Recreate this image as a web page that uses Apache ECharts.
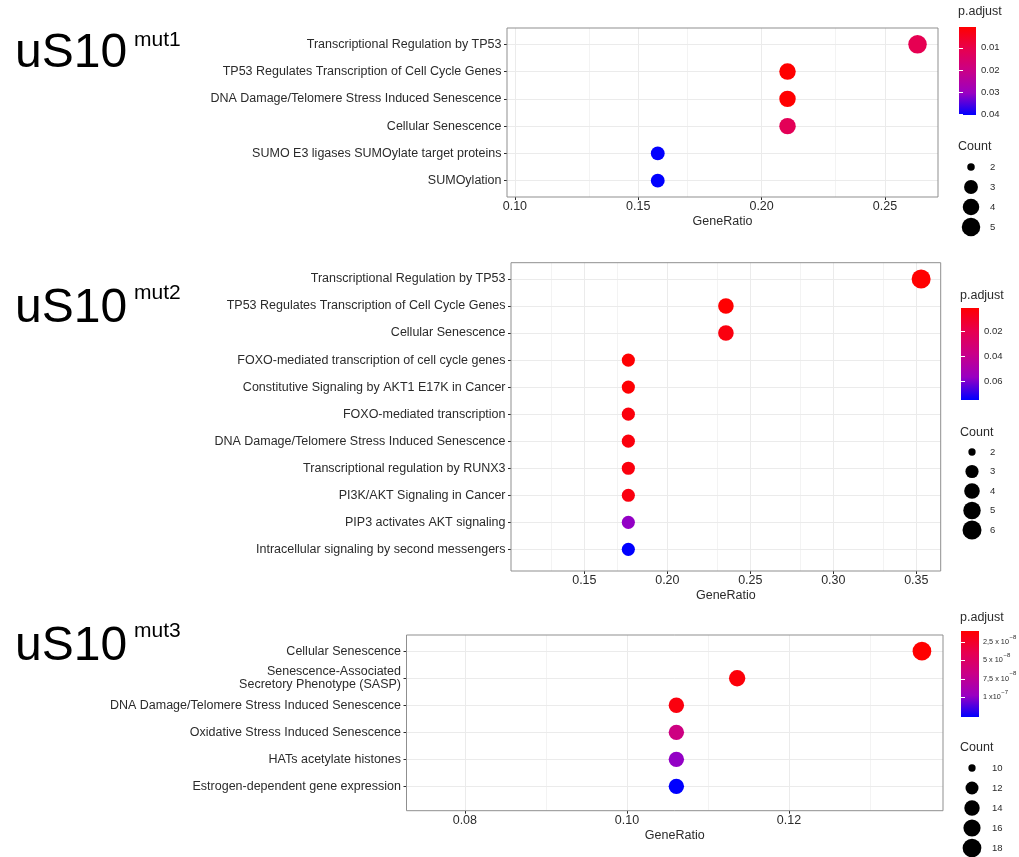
<!DOCTYPE html>
<html><head><meta charset="utf-8">
<script src="https://cdn.jsdelivr.net/npm/echarts@6/dist/echarts.min.js"></script>
<style>html,body{margin:0;padding:0;background:#fff}#c{width:1019px;height:857px}</style>
</head><body><div id="c"></div><script>
// ================= DATA =================
// Panel uS10 mut1
const cats1 = ['Transcriptional Regulation by TP53','TP53 Regulates Transcription of Cell Cycle Genes','DNA Damage/Telomere Stress Induced Senescence','Cellular Senescence','SUMO E3 ligases SUMOylate target proteins','SUMOylation'];
const ratio1 = [0.2632, 0.2105, 0.2105, 0.2105, 0.1579, 0.1579];
const count1 = [5, 4, 4, 4, 3, 3];
const padj1 = [0.0110, 0.00067, 0.0008, 0.0120, 0.0400, 0.0402];
const xTicks1 = [0.10, 0.15, 0.20, 0.25];
const pTicks1 = [0.01, 0.02, 0.03, 0.04];
const countBreaks1 = [2, 3, 4, 5];

// Panel uS10 mut2
const cats2 = ['Transcriptional Regulation by TP53','TP53 Regulates Transcription of Cell Cycle Genes','Cellular Senescence','FOXO-mediated transcription of cell cycle genes','Constitutive Signaling by AKT1 E17K in Cancer','FOXO-mediated transcription','DNA Damage/Telomere Stress Induced Senescence','Transcriptional regulation by RUNX3','PI3K/AKT Signaling in Cancer','PIP3 activates AKT signaling','Intracellular signaling by second messengers'];
const ratio2 = [0.3529, 0.2353, 0.2353, 0.1765, 0.1765, 0.1765, 0.1765, 0.1765, 0.1765, 0.1765, 0.1765];
const count2 = [6, 4, 4, 3, 3, 3, 3, 3, 3, 3, 3];
const padj2 = [0.00104, 0.0012, 0.0045, 0.0015, 0.0018, 0.0038, 0.0040, 0.0040, 0.0045, 0.0570, 0.0746];
const xTicks2 = [0.15, 0.20, 0.25, 0.30, 0.35];
const pTicks2 = [0.02, 0.04, 0.06];
const countBreaks2 = [2, 3, 4, 5, 6];

// Panel uS10 mut3
const cats3 = ['Cellular Senescence','Senescence-Associated\nSecretory Phenotype (SASP)','DNA Damage/Telomere Stress Induced Senescence','Oxidative Stress Induced Senescence','HATs acetylate histones','Estrogen-dependent gene expression'];
const ratio3 = [0.1364, 0.1136, 0.1061, 0.1061, 0.1061, 0.1061];
const count3 = [18, 15, 14, 14, 14, 14];
const padj3 = [1.0e-8, 1.35e-8, 1.5e-8, 6.5e-8, 9.9e-8, 1.27e-7];
const xTicks3 = [0.08, 0.10, 0.12];
const pTicks3 = [2.5e-8, 5e-8, 7.5e-8, 1e-7];
const pTickText3 = ['2,5 x 10', '5 x 10', '7,5 x 10', '1 x10'];
const pTickExp3 = ['\u22128', '\u22128', '\u22128', '\u22127'];
const countBreaks3 = [10, 12, 14, 16, 18];

const headMain = ['uS10', 'uS10', 'uS10'];
const headSup = ['mut1', 'mut2', 'mut3'];

// ================= STYLE / LAYOUT =================
const FONT = '"Liberation Sans", Arial, Helvetica, sans-serif';
const TXT = '#2b2b2b';
const GRIDC = '#EBEBEB';
const GRIDMINOR = '#F3F3F3';
const BORDER = '#8F8F8F';
const STOPS = ['#FF0000', '#E7004F', '#C90088', '#9A00C2', '#0000FF'];
const FS = 12.5, LFS = 9.5;

const LAY = [
  {grid:{left:507, top:28, width:431, height:169}, xr:[0.0968, 0.2715], yPad:[0.6, 0.6], size:[7.5, 18.5],
   head:{x:15, y:54, sx:134, sy:40.6}, cbar:{left:959, top:27, width:17, height:88}, cbarFS:LFS, cbarM:5, legX:958, pTitleY:12, cTitleY:147,
   dotX:971, numX:990, sTop:157, sH:80},
  {grid:{left:511, top:262.7, width:429.7, height:308.3}, xr:[0.1058, 0.3647], yPad:[0.6, 0.8], size:[7.3, 19],
   head:{x:15, y:308.5, sx:134, sy:293}, cbar:{left:961, top:308, width:18, height:92}, cbarFS:LFS, cbarM:5, legX:960, pTitleY:295.7, cTitleY:433,
   dotX:972, numX:990, sTop:442.25, sH:97.5},
  {grid:{left:406.5, top:635, width:536.5, height:175.7}, xr:[0.0728, 0.139], yPad:[0.6, 0.9], size:[7.3, 18.7],
   head:{x:15, y:646.5, sx:134, sy:631.5}, cbar:{left:961, top:631, width:18, height:86}, cbarFS:7.3, cbarM:4, legX:960, pTitleY:618, cTitleY:748,
   dotX:972, numX:992, sTop:758, sH:100}
];

const PANELS = [
  {cats:cats1, ratio:ratio1, count:count1, padj:padj1, xTicks:xTicks1, pTicks:pTicks1, breaks:countBreaks1, pFmt:v=>v.toFixed(2)},
  {cats:cats2, ratio:ratio2, count:count2, padj:padj2, xTicks:xTicks2, pTicks:pTicks2, breaks:countBreaks2, pFmt:v=>v.toFixed(2)},
  {cats:cats3, ratio:ratio3, count:count3, padj:padj3, xTicks:xTicks3, pTicks:pTicks3, breaks:countBreaks3,
   pFmt:v=>{const k = pTicks3.findIndex(t=>Math.abs(t-v) <= 1e-6*Math.abs(t)); return k<0 ? '' : '{n|'+pTickText3[k]+'}{s|'+pTickExp3[k]+'}';}}
];

const grids=[], xAxes=[], yAxes=[], series=[], visualMaps=[], graphics=[];
const gradient = () => new echarts.graphic.LinearGradient(0,0,0,1, STOPS.map((c,k)=>({offset:k/(STOPS.length-1), color:c})));
const mkGrid = o => Object.assign({show:false, containLabel:false, outerBoundsMode:'none'}, o);

PANELS.forEach((P, i) => {
  const Ly = LAY[i];
  const sizeFn = c => {
    const lo = P.breaks[0], hi = P.breaks[P.breaks.length-1];
    const t = Math.max(0, Math.min(1, (c-lo)/(hi-lo)));
    return Ly.size[0] + (Ly.size[1]-Ly.size[0]) * Math.sqrt(t);
  };
  const pMin = Math.min(...P.padj), pMax = Math.max(...P.padj);

  // ---- main plot ----
  const g = grids.length;
  grids.push(mkGrid(Ly.grid));
  const xi = xAxes.length, yi = yAxes.length;
  xAxes.push({gridIndex:g, type:'value', min:Ly.xr[0], max:Ly.xr[1],
    axisLine:{show:false}, splitLine:{show:false},
    axisTick:{show:true, customValues:P.xTicks, length:3, lineStyle:{color:TXT}},
    axisLabel:{customValues:P.xTicks, formatter:v=>v.toFixed(2), margin:3.5, fontSize:FS, color:TXT, fontFamily:FONT},
    name:'GeneRatio', nameLocation:'middle', nameGap:18, nameTextStyle:{fontSize:FS, color:TXT, fontFamily:FONT}});
  const yVals = P.cats.map((c,k)=>k+1);
  yAxes.push({gridIndex:g, type:'value', inverse:true, min:1-Ly.yPad[0], max:P.cats.length+Ly.yPad[1],
    axisLine:{show:false}, splitLine:{show:false},
    axisTick:{show:true, customValues:yVals, length:3, lineStyle:{color:TXT}},
    axisLabel:{customValues:yVals, formatter:v=>P.cats[Math.round(v)-1] || '', margin:5.5, fontSize:FS, lineHeight:13.5,
      color:TXT, fontFamily:FONT, align:'right'}});

  // gridlines (major at ticks, minor between)
  const step = P.xTicks[1]-P.xTicks[0];
  const gl = [];
  for (let v = P.xTicks[0]-step; v <= Ly.xr[1] + 1e-9; v += step/2) {
    const r = Math.round(v*1e6)/1e6;
    if (r < Ly.xr[0]) continue;
    const major = P.xTicks.some(t=>Math.abs(t-r)<1e-9);
    gl.push({xAxis:r, lineStyle:{color: major?GRIDC:GRIDMINOR, width:1, type:'solid'}});
  }
  yVals.forEach(v=>gl.push({yAxis:v, lineStyle:{color:GRIDC, width:1, type:'solid'}}));

  const si = series.length;
  series.push({type:'scatter', xAxisIndex:xi, yAxisIndex:yi, z:3, animation:false,
    data:P.cats.map((c,k)=>[P.ratio[k], k+1, P.padj[k], P.count[k]]),
    symbol:'circle', symbolSize:v=>sizeFn(v[3]), itemStyle:{opacity:1},
    emphasis:{disabled:true},
    markLine:{silent:true, z:1, symbol:['none','none'], label:{show:false}, animation:false,
      emphasis:{disabled:true}, data:gl}});
  visualMaps.push({type:'continuous', show:false, seriesIndex:si, dimension:2, min:pMin, max:pMax, inRange:{color:STOPS}});

  graphics.push({type:'rect', z:100, silent:true,
    shape:{x:Ly.grid.left, y:Ly.grid.top, width:Ly.grid.width, height:Ly.grid.height},
    style:{fill:'none', stroke:BORDER, lineWidth:1}});

  // ---- colour bar ----
  const cg = grids.length;
  grids.push(mkGrid(Ly.cbar));
  const cxi = xAxes.length;
  xAxes.push({gridIndex:cg, type:'value', min:0, max:1, show:false});
  const cyi = yAxes.length;
  yAxes.push({gridIndex:cg, type:'value', inverse:true, min:pMin, max:pMax, position:'right', z:10,
    axisLine:{show:false}, splitLine:{show:false},
    axisTick:{show:true, inside:true, length:4, customValues:P.pTicks, lineStyle:{color:'#ffffff', width:1}},
    axisLabel:{customValues:P.pTicks, formatter:P.pFmt, margin:Ly.cbarM, fontSize:Ly.cbarFS, color:TXT, fontFamily:FONT,
      rich:{n:{fontSize:Ly.cbarFS, color:TXT, fontFamily:FONT, lineHeight:16}, s:{fontSize:6, color:TXT, fontFamily:FONT, lineHeight:7, verticalAlign:'top', padding:[0,0,0,0.5]}}}});
  yAxes.push({gridIndex:cg, type:'value', inverse:true, min:pMin, max:pMax, position:'left', z:10,
    axisLine:{show:false}, splitLine:{show:false}, axisLabel:{show:false},
    axisTick:{show:true, inside:true, length:4, customValues:P.pTicks, lineStyle:{color:'#ffffff', width:1}}});
  series.push({type:'custom', xAxisIndex:cxi, yAxisIndex:cyi, z:2, silent:true, animation:false,
    encode:{x:[0,2], y:[1,3]},
    data:[[0, pMin, 1, pMax]],
    renderItem:(params, api)=>{
      const a = api.coord([api.value(0), api.value(1)]), b = api.coord([api.value(2), api.value(3)]);
      return {type:'rect', shape:{x:a[0], y:a[1], width:b[0]-a[0], height:b[1]-a[1]}, style:{fill:gradient()}};
    }});

  // ---- size legend ----
  const sg = grids.length;
  grids.push(mkGrid({left:Ly.dotX-10, top:Ly.sTop, width:20, height:Ly.sH}));
  const sxi = xAxes.length;
  xAxes.push({gridIndex:sg, type:'value', min:0, max:1, show:false});
  const syi = yAxes.length;
  yAxes.push({gridIndex:sg, type:'category', inverse:true, position:'right', data:P.breaks.map(String),
    axisLine:{show:false}, axisTick:{show:false}, splitLine:{show:false},
    axisLabel:{margin:Ly.numX-(Ly.dotX+10), fontSize:LFS, color:TXT, fontFamily:FONT}});
  series.push({type:'scatter', xAxisIndex:sxi, yAxisIndex:syi, z:3, silent:true, animation:false,
    data:P.breaks.map((c,k)=>[0.5, k, c]), symbolSize:v=>sizeFn(v[2]), itemStyle:{color:'#000000', opacity:1}});

  // ---- texts ----
  graphics.push({type:'text', x:Ly.head.x, y:Ly.head.y, silent:true,
    style:{text:headMain[i], font:'48px '+FONT, fill:'#000', align:'left', verticalAlign:'middle', textAlign:'left', textVerticalAlign:'middle'}});
  graphics.push({type:'text', x:Ly.head.sx, y:Ly.head.sy, silent:true,
    style:{text:headSup[i], font:'21px '+FONT, fill:'#000', align:'left', verticalAlign:'middle', textAlign:'left', textVerticalAlign:'middle'}});
  graphics.push({type:'text', x:Ly.legX, y:Ly.pTitleY, silent:true,
    style:{text:'p.adjust', font:FS+'px '+FONT, fill:TXT, align:'left', verticalAlign:'middle', textAlign:'left', textVerticalAlign:'middle'}});
  graphics.push({type:'text', x:Ly.legX, y:Ly.cTitleY, silent:true,
    style:{text:'Count', font:FS+'px '+FONT, fill:TXT, align:'left', verticalAlign:'middle', textAlign:'left', textVerticalAlign:'middle'}});
});

const chart = echarts.init(document.getElementById('c'), null, {renderer:'canvas'});
chart.setOption({
  backgroundColor:'#ffffff',
  animation:false,
  grid:grids, xAxis:xAxes, yAxis:yAxes, series:series, visualMap:visualMaps,
  graphic:{elements:graphics}
});
</script></body></html>
